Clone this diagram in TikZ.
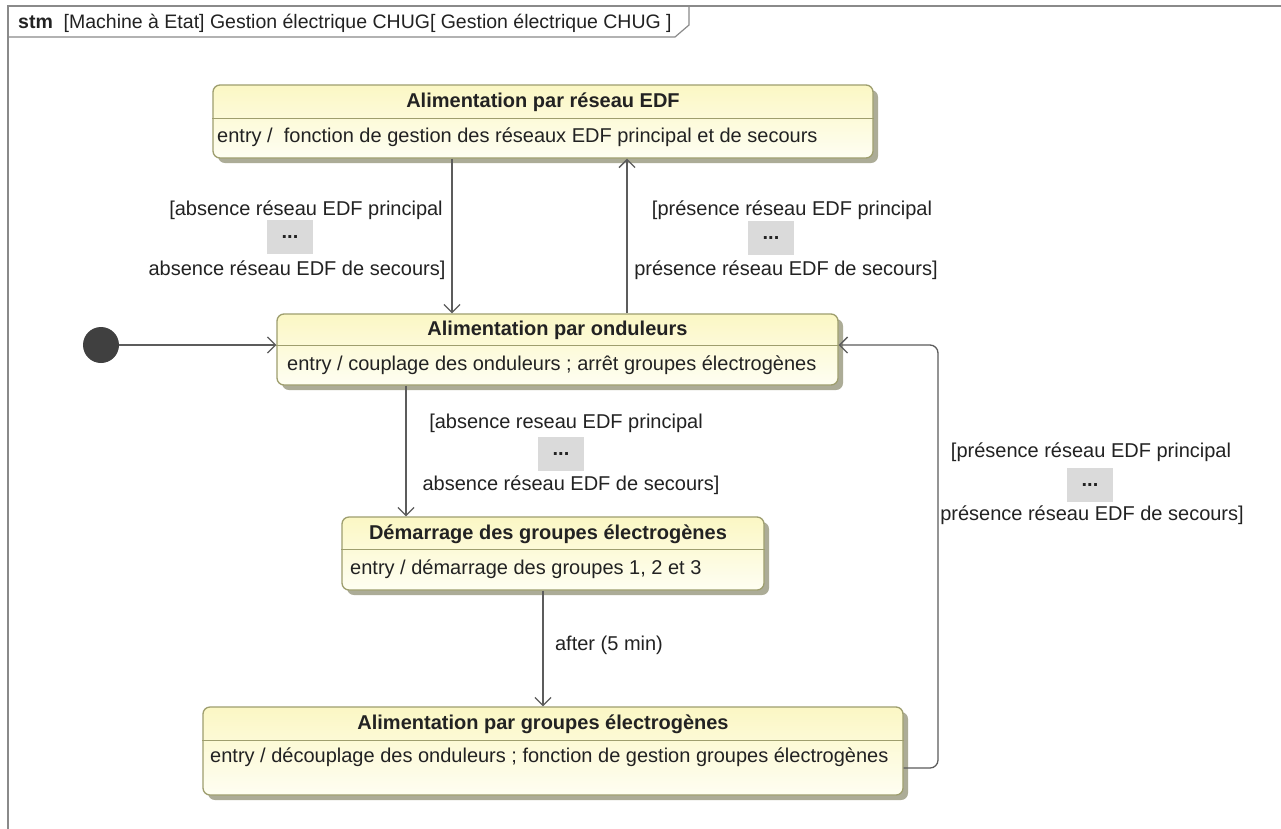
\documentclass[tikz,border=0pt]{standalone}
\usepackage{fontspec}
\setmainfont{Liberation Sans}
\usetikzlibrary{arrows.meta,shadows,calc}
\definecolor{stborder}{HTML}{9E9E6E}
\definecolor{sttop}{HTML}{FBF7C4}
\definecolor{stbot}{HTML}{FEFEF2}
\definecolor{shad}{HTML}{A3A38C}
\definecolor{lnc}{HTML}{5C5C5C}
\definecolor{dotsc}{HTML}{DADADA}
\definecolor{framec}{HTML}{8A8A8A}
\definecolor{txt}{HTML}{222222}
\begin{document}
\begin{tikzpicture}[x=1pt,y=-1pt,
  umlstate/.style={draw=stborder, line width=1.3pt, rounded corners=7pt,
    top color=sttop, bottom color=stbot, inner sep=0pt,
    drop shadow={shadow xshift=5pt, shadow yshift=-5pt, fill=shad, opacity=0.9}},
  sepline/.style={draw=stborder, line width=1pt},
  titletext/.style={font=\fontsize{20}{24}\selectfont\bfseries, text=txt, inner sep=0pt},
  entrytext/.style={font=\fontsize{20}{24}\selectfont, text=txt, inner sep=0pt, anchor=west},
  guardtext/.style={font=\fontsize{20}{24}\selectfont, text=txt, inner sep=0pt},
  dotsbox/.style={fill=dotsc, minimum width=46pt, minimum height=34pt, inner sep=0pt,
    font=\fontsize{20}{22}\selectfont\bfseries, text=txt},
  trans/.style={draw=lnc, line width=1.3pt, -{Straight Barb[length=8pt,width=16pt]}},
  initstate/.style={circle, fill=black!75, minimum size=36pt, inner sep=0pt},
  framel/.style={draw=framec, line width=1.2pt}
]
\useasboundingbox (0,0) rectangle (1281,828);
\fill[white] (0,0) rectangle (1281,828);

% frame
\draw[framel] (8,840) -- (8,6) -- (1290,6);
\draw[framel] (8,37) -- (675,37) -- (689,25) -- (689,6);
\node[anchor=west, inner sep=0pt, font=\fontsize{19.5}{22}\selectfont, text=txt] (hdr) at (18,23)
  {\textbf{stm}\ \ [Machine à Etat] Gestion électrique CHUG[ Gestion électrique CHUG ]};

% states
\node[umlstate, minimum width=660pt, minimum height=73pt] (edf) at (543,121.5) {};
\coordinate (sepA) at (0,118);
\draw[sepline] (edf.west |- sepA) -- (edf.east |- sepA);
\node[titletext] (edft) at (543,102) {Alimentation par réseau EDF};
\node[entrytext] (edfe) at (217,137) {entry /\ \ fonction de gestion des réseaux EDF principal et de secours};

\node[umlstate, minimum width=561pt, minimum height=71pt] (ond) at (557.5,349.5) {};
\coordinate (sepB) at (0,345);
\draw[sepline] (ond.west |- sepB) -- (ond.east |- sepB);
\node[titletext] (ondt) at (557.5,330) {Alimentation par onduleurs};
\node[entrytext] (onde) at (287,365) {entry / couplage des onduleurs ; arrêt groupes électrogènes};

\node[umlstate, minimum width=422pt, minimum height=73pt] (dem) at (553,553.5) {};
\coordinate (sepC) at (0,549);
\draw[sepline] (dem.west |- sepC) -- (dem.east |- sepC);
\node[titletext] (demt) at (548,534) {Démarrage des groupes électrogènes};
\node[entrytext] (deme) at (350,569) {entry / démarrage des groupes 1, 2 et 3};

\node[umlstate, minimum width=700pt, minimum height=88pt] (grp) at (553,751) {};
\coordinate (sepD) at (0,740);
\draw[sepline] (grp.west |- sepD) -- (grp.east |- sepD);
\node[titletext] (grpt) at (543,724) {Alimentation par groupes électrogènes};
\node[entrytext] (grpe) at (210,757) {entry / découplage des onduleurs ; fonction de gestion groupes électrogènes};

% initial state
\node[initstate] (init) at (101,345) {};
\draw[trans] (init) -- (ond.west |- init);

% transitions
\coordinate (xa) at (452,0);
\coordinate (xb) at (627,0);
\coordinate (xc) at (406,0);
\coordinate (xd) at (543,0);
\draw[trans] (edf.south -| xa) -- (ond.north -| xa);
\draw[trans] (ond.north -| xb) -- (edf.south -| xb);
\draw[trans] (ond.south -| xc) -- (dem.north -| xc);
\draw[trans] (dem.south -| xd) -- (grp.north -| xd);
\coordinate (grpy) at (0,768);
\coordinate (loopx) at (938,345);
\draw[trans, rounded corners=8pt] (grp.east |- grpy) -| (loopx) -- (ond.east |- sepB);

% guards
\node[guardtext] (ga1) at (306,210) {[absence réseau EDF principal};
\node[dotsbox] (ga2) at (290,237) {...};
\node[guardtext] (ga3) at (297,270) {absence réseau EDF de secours]};

\node[guardtext] (gb1) at (792,210) {[présence réseau EDF principal};
\node[dotsbox] (gb2) at (771,238) {...};
\node[guardtext] (gb3) at (786,270) {présence réseau EDF de secours]};

\node[guardtext] (gc1) at (566,423) {[absence reseau EDF principal};
\node[dotsbox] (gc2) at (561,454) {...};
\node[guardtext] (gc3) at (571,485) {absence réseau EDF de secours]};

\node[guardtext] (gd1) at (609,645) {after (5 min)};

\node[guardtext] (ge1) at (1091,452) {[présence réseau EDF principal};
\node[dotsbox] (ge2) at (1090,485) {...};
\node[guardtext] (ge3) at (1092,515) {présence réseau EDF de secours]};
\end{tikzpicture}
\end{document}
